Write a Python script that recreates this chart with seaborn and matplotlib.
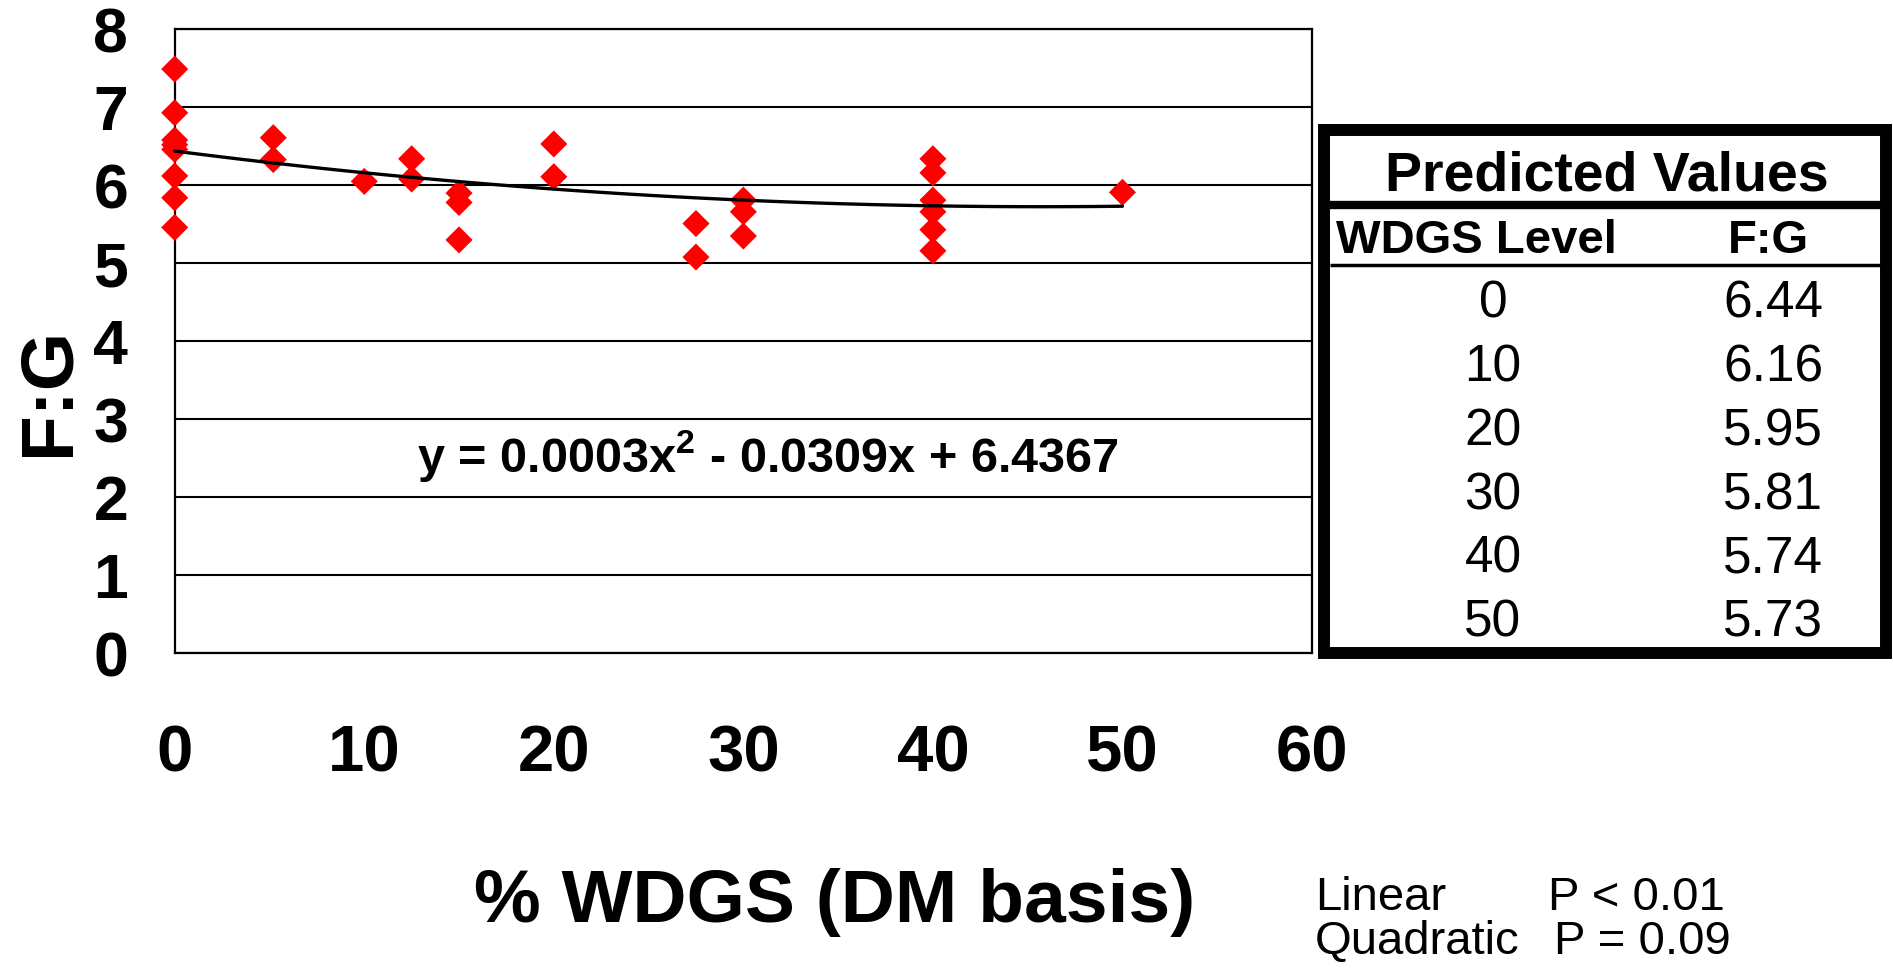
import numpy as np
import pandas as pd
import matplotlib
matplotlib.use("Agg")
import matplotlib.pyplot as plt
import seaborn as sns
from matplotlib.patches import Rectangle

# ---------------- data ----------------
wdgs_pct = [0, 0, 0, 0, 0, 0, 0, 0,
            5.2, 5.2,
            10,
            12.5, 12.5,
            15, 15, 15,
            20, 20,
            27.5, 27.5,
            30, 30, 30,
            40, 40, 40, 40, 40, 40,
            50]
fg_ratio = [7.49, 6.93, 6.58, 6.52, 6.46, 6.12, 5.84, 5.46,
            6.61, 6.33,
            6.05,
            6.34, 6.08,
            5.90, 5.78, 5.30,
            6.53, 6.11,
            5.51, 5.08,
            5.81, 5.66, 5.35,
            6.34, 6.16, 5.81, 5.66, 5.43, 5.16,
            5.91]

pred_levels = [0, 10, 20, 30, 40, 50]
pred_fg = [6.44, 6.16, 5.95, 5.81, 5.74, 5.73]

x_ticks = [0, 10, 20, 30, 40, 50, 60]
y_ticks = [0, 1, 2, 3, 4, 5, 6, 7, 8]

equation_text = "y = 0.0003x$^{2}$ - 0.0309x + 6.4367"
x_label = "% WDGS (DM basis)"
y_label = "F:G"
table_title = "Predicted Values"
table_headers = ["WDGS Level", "F:G"]
stats_names = ["Linear", "Quadratic"]
stats_p = ["P < 0.01", "P = 0.09"]

# ---------------- style ----------------
sns.set_style("white")
plt.rcParams["font.family"] = ["Liberation Sans", "DejaVu Sans"]
plt.rcParams["mathtext.fontset"] = "custom"
plt.rcParams["mathtext.rm"] = "Liberation Sans:bold"
plt.rcParams["mathtext.it"] = "Liberation Sans:bold"
plt.rcParams["mathtext.bf"] = "Liberation Sans:bold"
for key in ["text.color", "axes.labelcolor", "xtick.color", "ytick.color",
            "axes.edgecolor"]:
    plt.rcParams[key] = "black"

W, H = 1893, 968
fig = plt.figure(figsize=(W / 100, H / 100), dpi=100)
fig.patch.set_facecolor("white")

L, R, T, B = 174.7, 1312.0, 29.3, 653.3
ax = fig.add_axes([L / W, 1 - B / H, (R - L) / W, (B - T) / H])

df = pd.DataFrame({"wdgs": wdgs_pct, "fg": fg_ratio})
pred_df = pd.DataFrame({"level": pred_levels, "fg": pred_fg})

sns.scatterplot(data=df, x="wdgs", y="fg", marker="D", s=190,
                color="#FF0000", edgecolor="none", linewidth=0,
                ax=ax, zorder=3, legend=False, clip_on=False)
sns.regplot(data=pred_df, x="level", y="fg", order=2, ci=None,
            scatter=False, truncate=True,
            line_kws=dict(color="black", lw=2.4, zorder=4, clip_on=False),
            ax=ax)

ax.set_xlim(0, 60)
ax.set_ylim(0, 8)
ax.set_xticks(x_ticks)
ax.set_yticks(y_ticks)
ax.yaxis.grid(True, color="black", lw=1.5)
ax.xaxis.grid(False)
ax.set_axisbelow(True)
for sp in ax.spines.values():
    sp.set_visible(True)
    sp.set_color("black")
    sp.set_linewidth(1.6)

ax.tick_params(axis="x", direction="out", length=15.5, width=1.3,
               color="black", labelcolor="black", pad=36, labelsize=47)
ax.tick_params(axis="y", direction="out", length=14.5, width=1.3,
               color="black", labelcolor="black", pad=19, labelsize=45)
for lab in ax.get_xticklabels() + ax.get_yticklabels():
    lab.set_fontweight("bold")

ax.set_xlabel(x_label, fontsize=54, fontweight="bold", color="black")
ax.xaxis.label.set_va("baseline")
ax.xaxis.set_label_coords((834.5 - L) / (R - L), (B - 922) / (B - T))

ax.set_ylabel(y_label, fontsize=54, fontweight="bold", color="black")
ax.yaxis.label.set_va("baseline")
ax.yaxis.set_label_coords((68 - L) / (R - L), (B - 391) / (B - T))

ax.text(31.3, 2.33, equation_text, ha="center", va="baseline",
        fontsize=35, fontweight="bold", color="black", zorder=5)

# ---------------- overlay (pixel space) for the table & stats ----------------
ov = fig.add_axes([0, 0, 1, 1], facecolor="none")
ov.set_xlim(0, W)
ov.set_ylim(H, 0)
ov.axis("off")

border = Rectangle((1324, 130), 1886 - 1324, 653 - 130, fill=False,
                   ec="black", lw=8.6, joinstyle="miter")
ov.add_patch(border)
ov.hlines(205, 1330, 1881, color="black", lw=6.0)
ov.hlines(265.3, 1330, 1881, color="black", lw=2.5)

ov.text(1607, 190.4, table_title, ha="center", va="baseline",
        fontsize=40, fontweight="bold")
ov.text(1336, 252.9, table_headers[0], ha="left", va="baseline",
        fontsize=34, fontweight="bold")
ov.text(1768, 252.9, table_headers[1], ha="center", va="baseline",
        fontsize=34, fontweight="bold")

row_base = 317.9
row_step = 63.75
for i, (lvl, val) in enumerate(zip(pred_levels, pred_fg)):
    yb = row_base + i * row_step
    ov.text(1493, yb, f"{lvl}", ha="center", va="baseline", fontsize=37)
    ov.text(1773, yb, f"{val:.2f}", ha="center", va="baseline", fontsize=37)

ov.text(1315, 910, stats_names[0], ha="left", va="baseline", fontsize=34)
ov.text(1548, 910, stats_p[0], ha="left", va="baseline", fontsize=34)
ov.text(1315, 954, stats_names[1], ha="left", va="baseline", fontsize=34)
ov.text(1554, 954, stats_p[1], ha="left", va="baseline", fontsize=34)

fig.savefig("out.png", dpi=100, facecolor="white")
